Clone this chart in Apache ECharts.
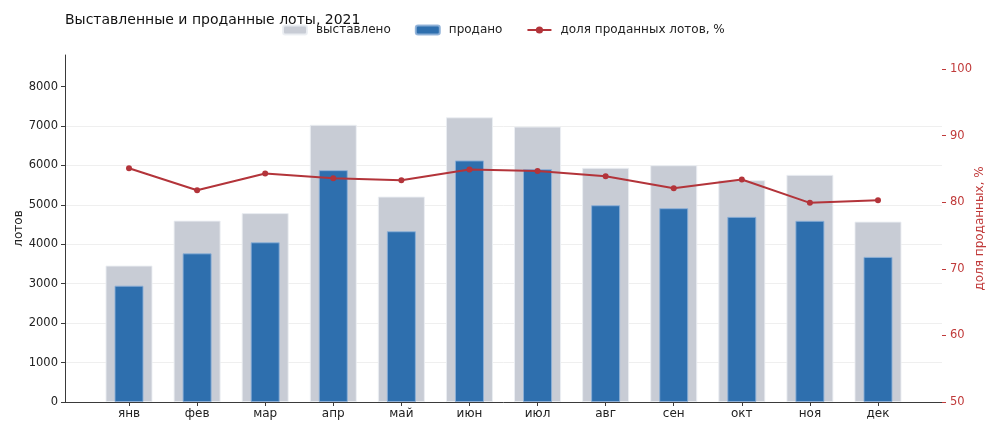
<!DOCTYPE html>
<html>
<head>
<meta charset="utf-8">
<script src="https://cdn.jsdelivr.net/npm/echarts@6/dist/echarts.min.js"></script>
<style>
  html, body { margin: 0; padding: 0; background: #fff; }
  #chart { width: 1000px; height: 433px; }
</style>
</head>
<body>
<div id="chart"></div>
<script>
const months = ['янв', 'фев', 'мар', 'апр', 'май', 'июн', 'июл', 'авг', 'сен', 'окт', 'ноя', 'дек']
const exhibited = [3460, 4600, 4790, 7030, 5210, 7220, 6985, 5940, 6005, 5625, 5760, 4575]
const sold = [2950, 3770, 4050, 5880, 4330, 6125, 5905, 4990, 4915, 4695, 4595, 3680]
const soldShare = [85.1, 81.8, 84.3, 83.6, 83.3, 84.9, 84.7, 83.9, 82.1, 83.4, 79.9, 80.3]
const leftTicks = [0, 1000, 2000, 3000, 4000, 5000, 6000, 7000, 8000]
const rightTicks = [50, 60, 70, 80, 90, 100]

const font = 'DejaVu Sans'
const idx = months.map((_, i) => i)
const pairs = arr => arr.map((v, i) => [i, v])

const chart = echarts.init(document.getElementById('chart'))

// ось x числовая, чтобы поля по краям были как в исходнике
const xBase = {
  type: 'value',
  min: -0.94,
  max: 11.94,
  splitLine: { show: false }
}

chart.setOption({
  animation: false,
  textStyle: { fontFamily: font },
  title: {
    text: 'Выставленные и проданные лоты, 2021',
    left: 60,
    top: 8,
    textStyle: { fontFamily: font, fontSize: 14, fontWeight: 'normal', color: '#111' }
  },
  legend: {
    left: 277,
    top: 19,
    itemWidth: 24,
    itemHeight: 9,
    itemGap: 24,
    textStyle: { fontFamily: font, fontSize: 12, color: '#222', padding: [0, 0, 0, 4] },
    data: ['выставлено', 'продано', 'доля проданных лотов, %']
  },
  grid: { left: 65, right: 58, top: 55, bottom: 31, outerBoundsMode: 'none' },
  xAxis: [
    Object.assign({}, xBase, {
      axisLine: { show: true, onZero: false, lineStyle: { color: '#3a3a3a', width: 1 } },
      axisTick: { show: true, customValues: idx, length: 4, lineStyle: { color: '#3a3a3a' } },
      axisLabel: {
        customValues: idx,
        formatter: v => months[Math.round(v)],
        fontSize: 12,
        color: '#222',
        margin: 6
      }
    }),
    Object.assign({}, xBase, { show: false })
  ],
  yAxis: [
    {
      type: 'value',
      min: 0,
      max: 8800,
      interval: 1000,
      name: 'лотов',
      nameLocation: 'middle',
      nameRotate: 90,
      nameGap: 40,
      nameMoveOverlap: false,
      nameTextStyle: { fontSize: 12, color: '#222' },
      axisLine: { show: true, onZero: false, lineStyle: { color: '#3a3a3a' } },
      axisTick: { show: true, customValues: leftTicks, length: 4, lineStyle: { color: '#3a3a3a' } },
      axisLabel: { customValues: leftTicks, formatter: v => String(v), fontSize: 11.5, color: '#222', margin: 7 },
      splitLine: { show: true, showMaxLine: false, lineStyle: { color: '#efefef' } }
    },
    {
      type: 'value',
      min: 50,
      max: 102.1,
      interval: 10,
      position: 'right',
      name: 'доля проданных, %',
      nameLocation: 'middle',
      nameRotate: 90,
      nameGap: 32,
      nameMoveOverlap: false,
      nameTextStyle: { fontSize: 12, color: '#c03a3a' },
      axisLine: { show: false, onZero: false },
      axisTick: { show: true, customValues: rightTicks, length: 4, lineStyle: { color: '#c03a3a' } },
      axisLabel: { customValues: rightTicks, formatter: v => String(v), fontSize: 11.5, color: '#c03a3a', margin: 8 },
      splitLine: { show: false }
    }
  ],
  series: [
    {
      name: 'выставлено',
      type: 'bar',
      xAxisIndex: 0,
      yAxisIndex: 0,
      barWidth: 47,
      itemStyle: { color: '#c8ccd5', borderColor: 'rgba(235,238,243,0.9)', borderWidth: 1 },
      data: pairs(exhibited)
    },
    {
      name: 'продано',
      type: 'bar',
      xAxisIndex: 1,
      yAxisIndex: 0,
      barWidth: 29,
      itemStyle: { color: '#2e6fae', borderColor: 'rgba(140,175,215,0.9)', borderWidth: 1 },
      data: pairs(sold)
    },
    {
      name: 'доля проданных лотов, %',
      type: 'line',
      xAxisIndex: 0,
      yAxisIndex: 1,
      symbol: 'circle',
      symbolSize: 6,
      lineStyle: { color: '#b3343a', width: 2 },
      itemStyle: { color: '#b3343a' },
      data: pairs(soldShare)
    }
  ]
})
</script>
</body>
</html>
